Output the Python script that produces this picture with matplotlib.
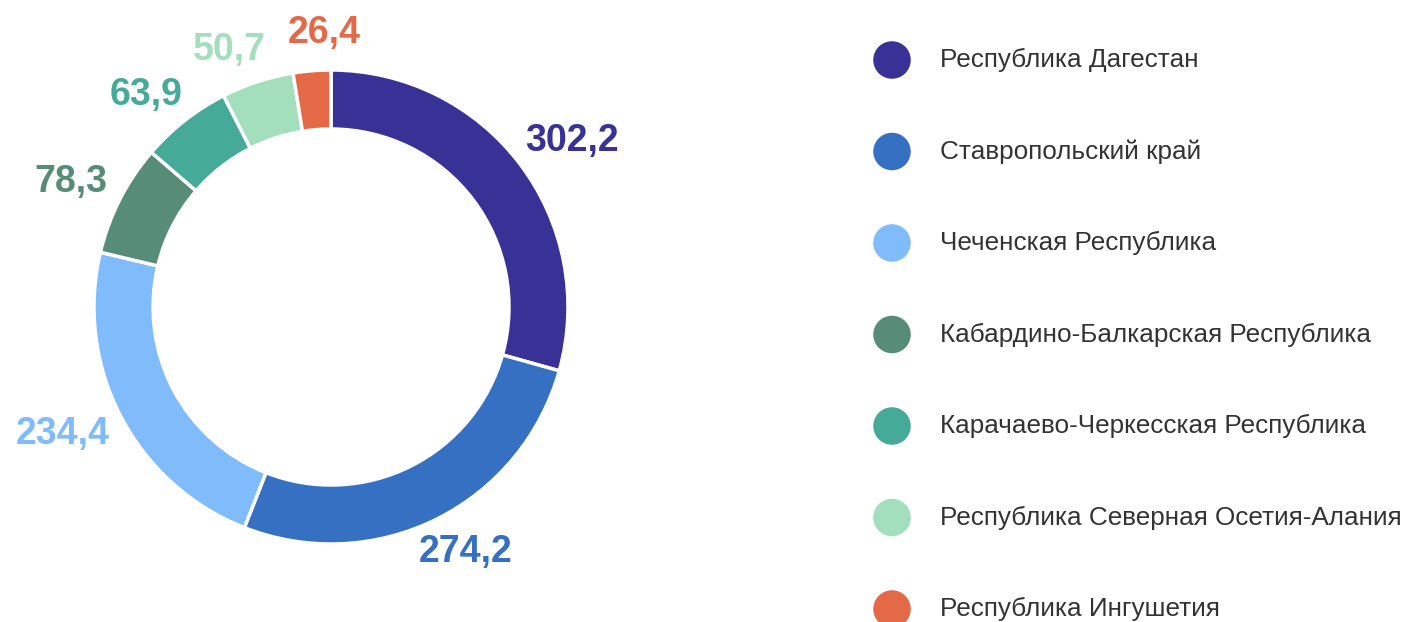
import numpy as np
from matplotlib import pyplot as plt

plt.rcParams['font.family'] = ['Liberation Sans', 'DejaVu Sans']

########## data ##########
regions = ["Республика Дагестан",
           "Ставропольский край",
           "Чеченская Республика",
           "Кабардино-Балкарская Республика",
           "Карачаево-Черкесская Республика",
           "Республика Северная Осетия-Алания",
           "Республика Ингушетия"]
values = [302.2, 274.2, 234.4, 78.3, 63.9, 50.7, 26.4]
colors = ["#383296", "#3670C2", "#80BBFC", "#568C78", "#46AA98", "#A3DEBD", "#E46A47"]

########## figure (1 unit = 1 px) ##########
W, H = 1404, 622
fig = plt.figure(figsize=(W/100, H/100), dpi=100)
ax = fig.add_axes([0, 0, 1, 1])

cx, cy, R, ring = 331, H - 307, 237, 59

wedges, _ = ax.pie(values, colors=colors, center=(cx, cy), radius=R,
                   startangle=90, counterclock=False,
                   wedgeprops=dict(width=ring, edgecolor="white", linewidth=2.5))

ax.set_xlim(0, W)
ax.set_ylim(0, H)
ax.set_aspect("equal")
ax.axis("off")

########## value labels ##########
# angle of each label = middle of its slice, then spread apart if too close
total = sum(values)
cum = np.cumsum([0] + values[:-1])
angles = [(c0 + v/2) / total * 360 for c0, v in zip(cum, values)]
min_gap = 19.0
for it in range(20):
    for i in range(len(angles) - 1):
        gap = angles[i+1] - angles[i]
        if gap < min_gap:
            angles[i] -= (min_gap - gap) / 2
            angles[i+1] += (min_gap - gap) / 2

labels = []
for v, c, a in zip(values, colors, angles):
    t = ax.text(0, 0, ("%.1f" % v).replace(".", ","), color=c, fontsize=27,
                fontweight="bold", ha="center", va="center")
    labels.append((t, np.radians(a)))

# anchor just outside the ring, text box pushed outward to touch it
fig.canvas.draw()
ren = fig.canvas.get_renderer()
for t, a in labels:
    bb = t.get_window_extent(renderer=ren)
    d = R * 1.08
    x = cx + d*np.sin(a) + bb.width/2*np.sin(a)
    y = cy + d*np.cos(a) + bb.height/2*np.cos(a)
    t.set_position((x, y))

########## legend drawn by hand ##########
for i, (name, c) in enumerate(zip(regions, colors)):
    y = H - (60 + i*91.5)
    ax.scatter([892], [y], s=730, color=c, edgecolors="none")
    ax.text(940, y, name, fontsize=18.8, color="#333333", va="center", ha="left")

fig.savefig("out.png", dpi=100, facecolor="white")
